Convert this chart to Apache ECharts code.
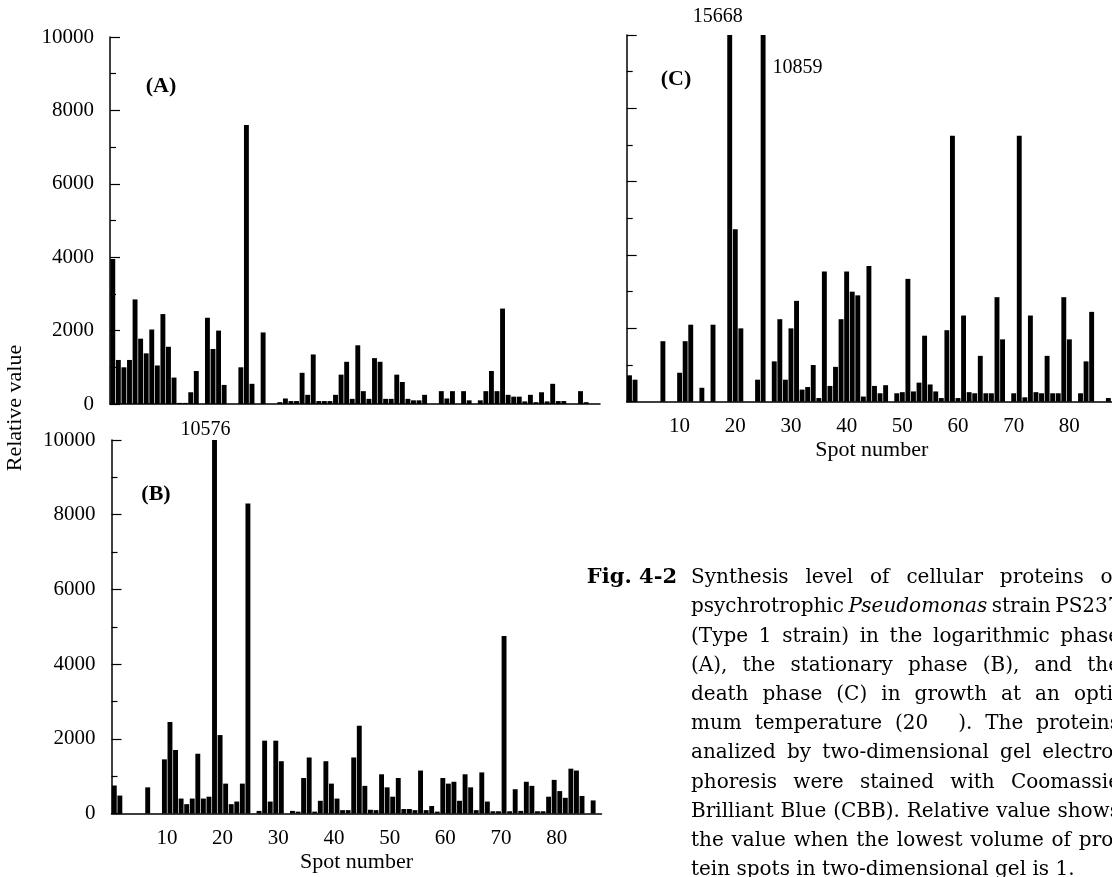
<!DOCTYPE html>
<html>
<head>
<meta charset="utf-8">
<title>Fig. 4-2</title>
<script src="https://cdn.jsdelivr.net/npm/echarts@6/dist/echarts.min.js"></script>
<style>
  html, body { margin: 0; padding: 0; background: #fff; }
  #main { width: 1112px; height: 877px; }
</style>
</head>
<body>
<div id="main"></div>
<script>
// spot numbers (x categories)
var spots = [1, 2, 3, 4, 5, 6, 7, 8, 9, 10, 11, 12, 13, 14, 15, 16, 17, 18, 19, 20,
  21, 22, 23, 24, 25, 26, 27, 28, 29, 30, 31, 32, 33, 34, 35, 36, 37, 38, 39, 40,
  41, 42, 43, 44, 45, 46, 47, 48, 49, 50, 51, 52, 53, 54, 55, 56, 57, 58, 59, 60,
  61, 62, 63, 64, 65, 66, 67, 68, 69, 70, 71, 72, 73, 74, 75, 76, 77, 78, 79, 80,
  81, 82, 83, 84, 85, 86, 87, 88];
var xTickLabels = ['10', '20', '30', '40', '50', '60', '70', '80'];
var yTickLabels = [0, 2000, 4000, 6000, 8000, 10000];

// (A) logarithmic phase
var phaseA = [3950, 1200, 1000, 1200, 2850, 1780, 1380, 2030, 1050, 2450,
  1560, 720, 30, 30, 320, 900, 0, 2350, 1500, 2000,
  520, 0, 0, 1000, 7600, 550, 0, 1950, 0, 0,
  50, 150, 80, 80, 850, 250, 1350, 80, 80, 80,
  250, 800, 1150, 140, 1600, 350, 140, 1250, 1150, 140,
  140, 800, 600, 140, 100, 100, 250, 0, 0, 350,
  150, 350, 0, 350, 100, 0, 100, 350, 900, 350,
  2600, 250, 200, 200, 70, 250, 50, 320, 70, 550,
  80, 80, 0, 0, 350, 50, 0, 0];

// (B) stationary phase
var phaseB = [750, 480, 0, 0, 0, 0, 700, 0, 0, 1450,
  2450, 1700, 400, 250, 400, 1600, 400, 450, 10576, 2100,
  800, 250, 320, 800, 8300, 0, 70, 1950, 320, 1950,
  1400, 0, 70, 50, 950, 1500, 50, 340, 1400, 800,
  400, 90, 90, 1500, 2350, 740, 100, 90, 1050, 700,
  450, 950, 120, 120, 90, 1150, 90, 200, 50, 950,
  800, 850, 340, 1050, 700, 90, 1100, 320, 60, 60,
  4750, 60, 650, 70, 850, 740, 60, 60, 450, 900,
  600, 420, 1200, 1150, 470, 0, 350, 0];

// (C) death phase
var phaseC = [720, 600, 0, 0, 0, 0, 1650, 0, 0, 790,
  1650, 2100, 0, 380, 0, 2100, 0, 0, 15668, 4700,
  2000, 0, 0, 600, 10859, 0, 1100, 2250, 600, 2000,
  2750, 330, 400, 1000, 100, 3550, 430, 950, 2250, 3550,
  3000, 2900, 140, 3700, 430, 230, 450, 0, 230, 260,
  3350, 280, 520, 1800, 470, 280, 100, 1950, 7250, 100,
  2350, 260, 230, 1250, 230, 230, 2850, 1700, 0, 230,
  7250, 120, 2350, 260, 230, 1250, 230, 230, 2850, 1700,
  0, 230, 1100, 2450, 0, 0, 100, 0];

// caption
var captionLines = [
  'Synthesis level of cellular proteins of',
  'psychrotrophic Pseudomonas strain PS237',
  '(Type 1 strain) in the logarithmic phase',
  '(A), the stationary phase (B), and the',
  'death phase (C) in growth at an opti-',
  'mum temperature (20\u2003\u2002). The proteins',
  'analized by two-dimensional gel electro-',
  'phoresis were stained with Coomassie',
  'Brilliant Blue (CBB). Relative value shows',
  'the value when the lowest volume of pro-',
  'tein spots in two-dimensional gel is 1.'
];
var italicWords = ['Pseudomonas'];

var serif = '"Liberation Serif", "Times New Roman", serif';
var capFont = '20px "DejaVu Serif"';

// grids: A, B, C
var grids = [
  { left: 110, top: 37, width: 490, height: 367 },
  { left: 111.5, top: 440, width: 490, height: 373.5 },
  { left: 626.7, top: 35, width: 490, height: 366.7 }
];

function xAxisFor(idx, labels, shift) {
  return {
    type: 'category', gridIndex: idx, data: spots.map(String),
    axisLine: { show: true, lineStyle: { color: '#000', width: 1.5 } },
    axisTick: { show: false },
    axisLabel: {
      show: labels,
      interval: function (i, v) { return xTickLabels.indexOf(v) >= 0; },
      margin: 14, color: '#000', fontFamily: serif, fontSize: 21,
      padding: [0, 0, 0, shift]
    },
    name: labels ? 'Spot number' : '',
    nameLocation: 'middle', nameGap: 38,
    nameTextStyle: { color: '#000', fontFamily: serif, fontSize: 22 },
    splitLine: { show: false }
  };
}

function yAxisFor(idx, labels) {
  return {
    type: 'value', gridIndex: idx, min: 0, max: 10000, interval: 2000,
    axisLine: { show: true, lineStyle: { color: '#000', width: 1.5 } },
    axisTick: { show: true, inside: true, length: 10, lineStyle: { color: '#000', width: 1.2 } },
    minorTick: { show: true, splitNumber: 2, length: 6, lineStyle: { color: '#000', width: 1.2 } },
    splitLine: { show: false },
    axisLabel: {
      show: labels, margin: 16, color: '#000', fontFamily: serif, fontSize: 21,
      formatter: function (v) { return yTickLabels.indexOf(v) >= 0 ? String(v) : ''; }
    }
  };
}

// values that run off the top are written next to their bar
var notesA = {};
var notesB = { 19: { position: 'top', offset: [-9, 0] } };
var notesC = {
  19: { position: 'top', offset: [-12, -8] },
  25: { position: ['100%', 0], offset: [7, 33], align: 'left', verticalAlign: 'middle' }
};

function barData(values, notes) {
  return values.map(function (v, i) {
    var note = notes[i + 1];
    if (!note) return v;
    return {
      value: v,
      label: Object.assign({ show: true, distance: 0, formatter: String(v), color: '#000', fontFamily: serif, fontSize: 20 }, note)
    };
  });
}

function barSeries(idx, values, notes) {
  return {
    type: 'bar', xAxisIndex: idx, yAxisIndex: idx,
    data: barData(values, notes),
    barCategoryGap: '12%',
    itemStyle: { color: '#000' },
    silent: true
  };
}

// caption, justified line by line
var ctx = document.createElement('canvas').getContext('2d');
function wordFont(w) { return (italicWords.indexOf(w) >= 0 ? 'italic ' : '') + capFont; }
var capLeft = 691, capRight = 1120, capTop = 578, capLineH = 29.2;
var graphics = [];
captionLines.forEach(function (line, li) {
  var words = line.split(' ');
  var widths = words.map(function (w) { ctx.font = wordFont(w); return ctx.measureText(w).width; });
  var total = widths.reduce(function (a, b) { return a + b; }, 0);
  ctx.font = capFont;
  var space = ctx.measureText(' ').width;
  var last = li === captionLines.length - 1;
  var gap = last ? space : Math.max(space * 0.7, (capRight - capLeft - total) / (words.length - 1));
  var x = capLeft;
  words.forEach(function (w, wi) {
    graphics.push({
      type: 'text', x: x, y: capTop + li * capLineH, silent: true,
      style: { text: w, font: wordFont(w), fill: '#000', align: 'left', verticalAlign: 'middle' }
    });
    x += widths[wi] + gap;
  });
});
graphics.push({
  type: 'text', x: 677, y: capTop, silent: true,
  style: { text: 'Fig. 4-2', font: 'bold 21px "DejaVu Serif"', fill: '#000', align: 'right', verticalAlign: 'middle' }
});
// panel letters
[['(A)', 161, 86], ['(B)', 156, 494], ['(C)', 676, 79]].forEach(function (p) {
  graphics.push({
    type: 'text', x: p[1], y: p[2], silent: true,
    style: { text: p[0], font: 'bold 22px "Liberation Serif"', fill: '#000', align: 'center', verticalAlign: 'middle' }
  });
});
// shared y axis name
graphics.push({
  type: 'text', x: 15, y: 408, rotation: Math.PI / 2, silent: true,
  style: { text: 'Relative value', font: '22px "Liberation Serif"', fill: '#000', align: 'center', verticalAlign: 'middle' }
});

var option = {
  animation: false,
  backgroundColor: '#fff',
  grid: grids.map(function (g) {
    return Object.assign({ containLabel: false, outerBoundsMode: 'none' }, g);
  }),
  xAxis: [xAxisFor(0, false, 0), xAxisFor(1, true, 5), xAxisFor(2, true, 0)],
  yAxis: [yAxisFor(0, true), yAxisFor(1, true), yAxisFor(2, false)],
  series: [barSeries(0, phaseA, notesA), barSeries(1, phaseB, notesB), barSeries(2, phaseC, notesC)],
  graphic: graphics
};

var chart = echarts.init(document.getElementById('main'), null, { renderer: 'canvas' });
chart.setOption(option);
</script>
</body>
</html>
